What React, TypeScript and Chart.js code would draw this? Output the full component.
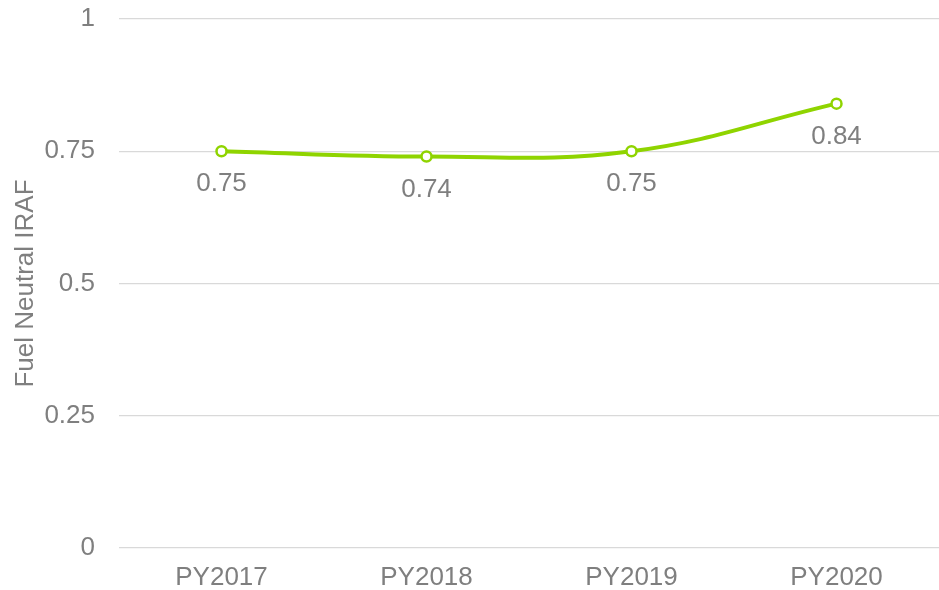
import React, { useEffect, useRef } from "react";
import { Chart, registerables } from "chart.js";

Chart.register(...registerables);

const categories = ["PY2017", "PY2018", "PY2019", "PY2020"];
const iraf = [0.75, 0.74, 0.75, 0.84];
const yTicks = [0, 0.25, 0.5, 0.75, 1];
const yTitle = "Fuel Neutral IRAF";

const GREEN = "#8fd400";
const TEXT = "#7f7f7f";
const FONT = "'Liberation Sans', Arial, sans-serif";

const labelPlugin = {
  id: "pointLabels",
  afterDatasetsDraw(chart: any) {
    const ctx = chart.ctx;
    const meta = chart.getDatasetMeta(0);
    ctx.save();
    ctx.fillStyle = TEXT;
    ctx.font = `26px ${FONT}`;
    ctx.textAlign = "center";
    ctx.textBaseline = "middle";
    meta.data.forEach((pt: any, i: number) => {
      ctx.fillText(String(iraf[i]), pt.x, pt.y + 33);
    });
    ctx.restore();
  },
};

export default function App() {
  const ref = useRef<HTMLCanvasElement>(null);
  useEffect(() => {
    document.body.style.margin = "0";
    const chart = new Chart(ref.current!, {
      type: "line",
      data: {
        labels: categories,
        datasets: [
          {
            data: iraf,
            borderColor: GREEN,
            borderWidth: 4,
            tension: 0.4,
            pointRadius: 5,
            pointBorderWidth: 2.5,
            pointBackgroundColor: "#ffffff",
            pointBorderColor: GREEN,
            clip: false,
          },
        ],
      },
      options: {
        animation: false,
        responsive: false,
        layout: { autoPadding: false, padding: { top: 19, right: 0, left: 0, bottom: 0 } },
        plugins: { legend: { display: false }, tooltip: { enabled: false } },
        scales: {
          x: {
            offset: true,
            grid: { display: false, drawTicks: false },
            border: { display: false },
            ticks: { color: TEXT, font: { family: FONT, size: 26 }, padding: 14 },
            afterFit(axis: any) {
              axis.height = 42;
              axis.paddingLeft = 0;
              axis.paddingRight = 0;
            },
          },
          y: {
            min: 0,
            max: 1,
            afterBuildTicks(axis: any) {
              axis.ticks = yTicks.map((v) => ({ value: v }));
            },
            afterFit(axis: any) {
              axis.width = 119;
              axis.paddingTop = 0;
              axis.paddingBottom = 0;
            },
            grid: { color: "#d9d9d9", lineWidth: 1.3, drawTicks: false },
            border: { display: false },
            ticks: {
              color: TEXT,
              font: { family: FONT, size: 26 },
              padding: 24,
              callback: (v: any) => String(v),
            },
            title: {
              display: true,
              text: yTitle,
              color: TEXT,
              font: { family: FONT, size: 26 },
              padding: { top: 10, bottom: 8 },
            },
          },
        },
      },
      plugins: [labelPlugin],
    });
    return () => chart.destroy();
  }, []);
  return (
    <div style={{ position: "absolute", left: 0, top: 0, width: 939, height: 590 }}>
      <canvas ref={ref} width={939} height={590} style={{ display: "block" }} />
    </div>
  );
}
